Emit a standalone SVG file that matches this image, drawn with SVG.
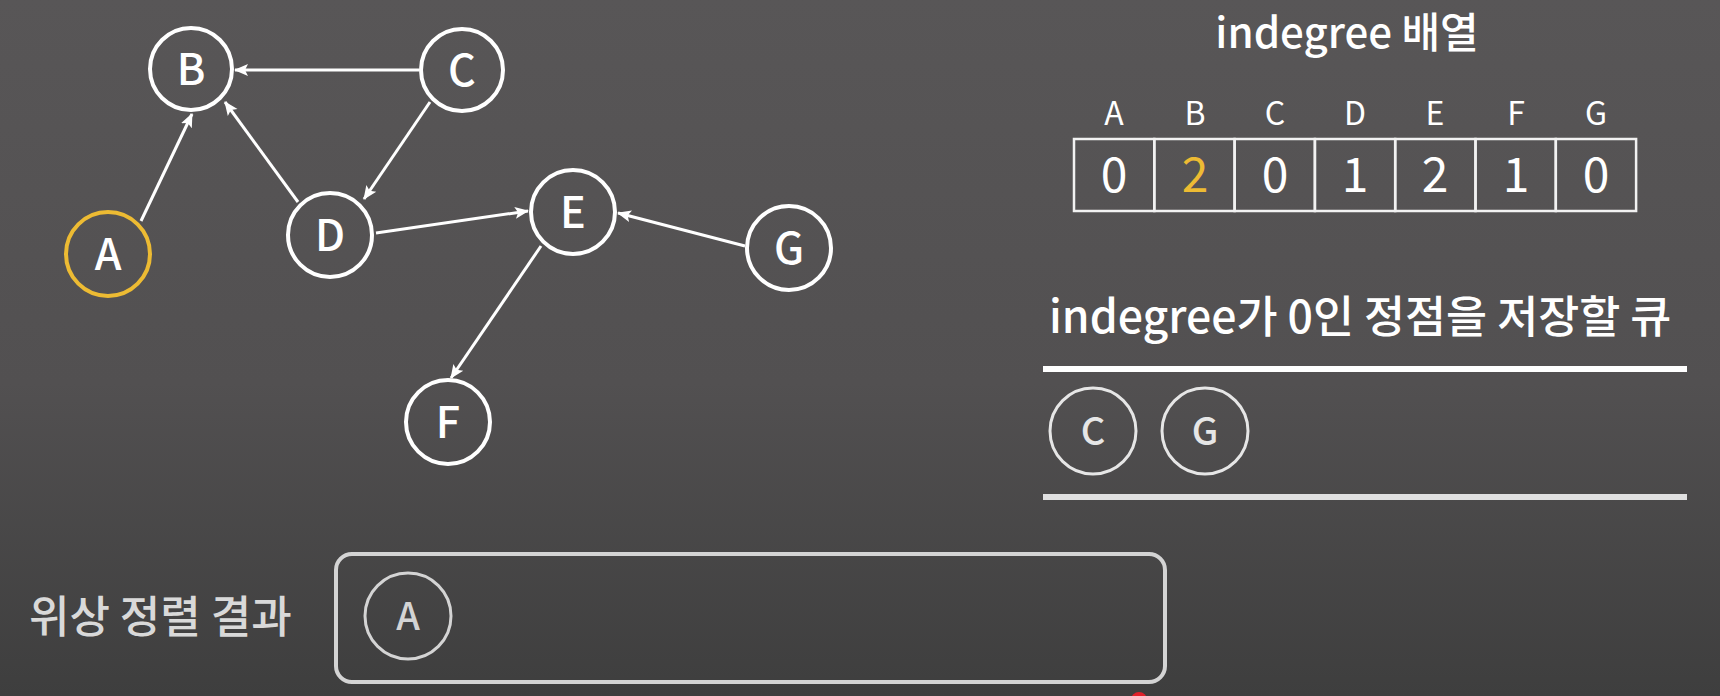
<svg xmlns="http://www.w3.org/2000/svg" width="1720" height="696" viewBox="0 0 1720 696">
<defs>
<linearGradient id="bg" x1="0" y1="0" x2="0" y2="1">
<stop offset="0" stop-color="#585657"/>
<stop offset="0.55" stop-color="#525051"/>
<stop offset="1" stop-color="#3e3e3e"/>
</linearGradient>
<marker id="arr" markerUnits="userSpaceOnUse" markerWidth="16" markerHeight="14" refX="13" refY="7" orient="auto">
<path d="M0,1 L14,7 L0,13 L3,7 Z" fill="#ffffff"/>
</marker>
<style>
text{font-family:"Noto Sans CJK KR","Noto Sans",sans-serif;}
.node circle{fill:none;stroke:#ffffff;stroke-width:4;}
.node text{fill:#ffffff;font-size:43px;font-weight:500;text-anchor:middle;}
.edge{stroke:#ffffff;stroke-width:3;fill:none;marker-end:url(#arr);}
.title{fill:#ffffff;font-weight:500;}
.hdr{fill:#ffffff;font-size:32px;text-anchor:middle;}
.val{fill:#ffffff;font-size:48px;text-anchor:middle;}
.cell{fill:none;stroke:#f2f2f2;stroke-width:2.5;}
.q circle{fill:none;stroke:#e6e6e6;stroke-width:3;}
.q text{fill:#e6e6e6;font-size:38px;font-weight:500;text-anchor:middle;}
.r circle{fill:none;stroke:#d4d4d4;stroke-width:3;}
.r text{fill:#d4d4d4;font-size:38px;font-weight:500;text-anchor:middle;}
</style>
</defs>
<rect x="0" y="0" width="1720" height="696" fill="url(#bg)"/>

<g id="connectors">
<line class="edge" x1="419" y1="70" x2="235" y2="70"/>
<line class="edge" x1="141" y1="221" x2="192" y2="114"/>
<line class="edge" x1="298" y1="202" x2="225" y2="102"/>
<line class="edge" x1="430" y1="102" x2="364" y2="199"/>
<line class="edge" x1="376" y1="233" x2="528" y2="211"/>
<line class="edge" x1="745" y1="246" x2="618" y2="213"/>
<line class="edge" x1="541" y1="246" x2="451" y2="378"/>
</g>

<g id="node-A" class="node"><circle cx="108" cy="254" r="42" style="stroke:#edbb33"/><text x="108" y="270">A</text></g>
<g id="node-B" class="node"><circle cx="191" cy="69" r="41"/><text x="191" y="85">B</text></g>
<g id="node-C" class="node"><circle cx="462" cy="70" r="41"/><text x="462" y="86">C</text></g>
<g id="node-D" class="node"><circle cx="330" cy="235" r="42"/><text x="330" y="251">D</text></g>
<g id="node-E" class="node"><circle cx="573" cy="212" r="42"/><text x="573" y="228">E</text></g>
<g id="node-F" class="node"><circle cx="448" cy="422" r="42"/><text x="448" y="438">F</text></g>
<g id="node-G" class="node"><circle cx="789" cy="248" r="42"/><text x="789" y="264">G</text></g>

<g id="indegree-array">
<text class="title" x="1347" y="48" font-size="42" text-anchor="middle">indegree 배열</text>
<text class="hdr" x="1114" y="125">A</text>
<text class="hdr" x="1195" y="125">B</text>
<text class="hdr" x="1275" y="125">C</text>
<text class="hdr" x="1355" y="125">D</text>
<text class="hdr" x="1435" y="125">E</text>
<text class="hdr" x="1516" y="125">F</text>
<text class="hdr" x="1596" y="125">G</text>
<rect class="cell" x="1074" y="139" width="80.3" height="72"/>
<rect class="cell" x="1154.3" y="139" width="80.3" height="72"/>
<rect class="cell" x="1234.6" y="139" width="80.3" height="72"/>
<rect class="cell" x="1314.9" y="139" width="80.3" height="72"/>
<rect class="cell" x="1395.2" y="139" width="80.3" height="72"/>
<rect class="cell" x="1475.5" y="139" width="80.3" height="72"/>
<rect class="cell" x="1555.8" y="139" width="80.3" height="72"/>
<text class="val" x="1114" y="192">0</text>
<text class="val" x="1195" y="192" style="fill:#edbb33">2</text>
<text class="val" x="1275" y="192">0</text>
<text class="val" x="1355" y="192">1</text>
<text class="val" x="1435" y="192">2</text>
<text class="val" x="1516" y="192">1</text>
<text class="val" x="1596" y="192">0</text>
</g>

<g id="queue">
<text class="title" x="1049" y="333" font-size="44.6">indegree가 0인 정점을 저장할 큐</text>
<line x1="1043" y1="369" x2="1687" y2="369" stroke="#ffffff" stroke-width="6"/>
<line x1="1043" y1="497" x2="1687" y2="497" stroke="#e0e0e0" stroke-width="6"/>
<g id="queue-C" class="q"><circle cx="1093" cy="431" r="43"/><text x="1093" y="445">C</text></g>
<g id="queue-G" class="q"><circle cx="1205" cy="431" r="43"/><text x="1205" y="445">G</text></g>
</g>

<g id="result">
<text x="29" y="633" fill="#d9d9d9" font-size="44" font-weight="500">위상 정렬 결과</text>
<rect x="336" y="554" width="829" height="128" rx="16" fill="none" stroke="#d4d4d4" stroke-width="4"/>
<g id="result-A" class="r"><circle cx="408" cy="616" r="43"/><text x="408" y="630">A</text></g>
</g>

<circle cx="1139" cy="700" r="8" fill="#e0202a"/>
</svg>
